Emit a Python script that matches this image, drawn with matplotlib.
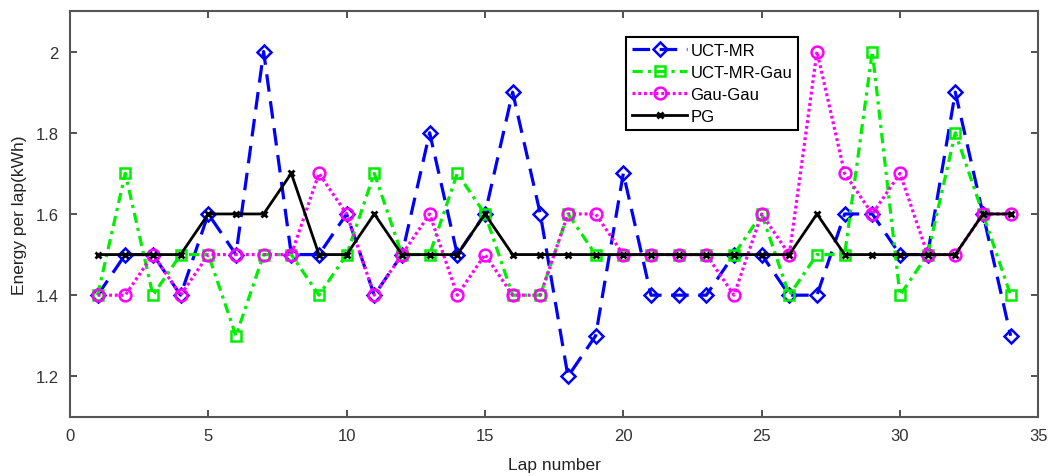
#!/usr/bin/env python3
"""Energy per lap for the four strategies, lap by lap."""

import matplotlib

matplotlib.use("Agg")
import matplotlib.pyplot as plt

plt.rcParams["font.family"] = ["Liberation Sans", "DejaVu Sans"]

laps = list(range(1, 35))

uct_mr = [1.4, 1.5, 1.5, 1.4, 1.6, 1.5, 2.0, 1.5, 1.5, 1.6, 1.4, 1.5, 1.8, 1.5, 1.6, 1.9, 1.6,
          1.2, 1.3, 1.7, 1.4, 1.4, 1.4, 1.5, 1.5, 1.4, 1.4, 1.6, 1.6, 1.5, 1.5, 1.9, 1.6, 1.3]
uct_mr_gau = [1.4, 1.7, 1.4, 1.5, 1.5, 1.3, 1.5, 1.5, 1.4, 1.5, 1.7, 1.5, 1.5, 1.7, 1.6, 1.4, 1.4,
              1.6, 1.5, 1.5, 1.5, 1.5, 1.5, 1.5, 1.6, 1.4, 1.5, 1.5, 2.0, 1.4, 1.5, 1.8, 1.6, 1.4]
gau_gau = [1.4, 1.4, 1.5, 1.4, 1.5, 1.5, 1.5, 1.5, 1.7, 1.6, 1.4, 1.5, 1.6, 1.4, 1.5, 1.4, 1.4,
           1.6, 1.6, 1.5, 1.5, 1.5, 1.5, 1.4, 1.6, 1.5, 2.0, 1.7, 1.6, 1.7, 1.5, 1.5, 1.6, 1.6]
pg = [1.5, 1.5, 1.5, 1.5, 1.6, 1.6, 1.6, 1.7, 1.5, 1.5, 1.6, 1.5, 1.5, 1.5, 1.6, 1.5, 1.5,
      1.5, 1.5, 1.5, 1.5, 1.5, 1.5, 1.5, 1.5, 1.5, 1.6, 1.5, 1.5, 1.5, 1.5, 1.5, 1.6, 1.6]

x_ticks = [0, 5, 10, 15, 20, 25, 30, 35]
y_ticks = [1.2, 1.4, 1.6, 1.8, 2.0]
y_tick_labels = ["1.2", "1.4", "1.6", "1.8", "2"]

fig = plt.figure(figsize=(10.52, 4.77), dpi=100)
ax = fig.add_axes([0.0665, 0.1237, 0.9205, 0.8513])

ax.plot(laps, uct_mr, color="#0000ff", linewidth=2.3, dashes=(5.5, 3.0),
        marker="D", markersize=7, markerfacecolor="none", markeredgewidth=1.8, label="UCT-MR")
ax.plot(laps, uct_mr_gau, color="#00ee00", linewidth=2.3, dashes=(3.2, 1.6, 1.0, 1.6),
        marker="s", markersize=7, markerfacecolor="none", markeredgewidth=1.8, label="UCT-MR-Gau")
ax.plot(laps, gau_gau, color="#ff00ff", linewidth=2.3, dashes=(0.9, 0.9),
        marker="o", markersize=8.5, markerfacecolor="none", markeredgewidth=1.8, label="Gau-Gau")
ax.plot(laps, pg, color="black", linewidth=2.0, linestyle="-",
        marker="x", markersize=5, markeredgewidth=2.0, label="PG")

ax.set_xlim(0, 35)
ax.set_ylim(1.1, 2.1)
ax.set_xticks(x_ticks)
ax.set_yticks(y_ticks)
ax.set_yticklabels(y_tick_labels)
ax.tick_params(direction="in", length=5, width=1.2, top=True, right=True,
               labelsize=12, colors="#333333", pad=8)
for spine in ax.spines.values():
    spine.set_color("#555555")
    spine.set_linewidth(1.5)

ax.set_xlabel("Lap number", fontsize=12.5, color="#222222", labelpad=10)
ax.set_ylabel("Energy per lap(kWh)", fontsize=12.5, color="#222222", labelpad=6)

leg = ax.legend(loc="upper left", bbox_to_anchor=(0.566, 0.956), fontsize=12,
                handlelength=3.3, handletextpad=0.2, labelspacing=0.42,
                borderpad=0.35, fancybox=False, framealpha=1.0)
leg.get_frame().set_edgecolor("black")
leg.get_frame().set_linewidth(1.5)

fig.savefig("out.png", dpi=100)
